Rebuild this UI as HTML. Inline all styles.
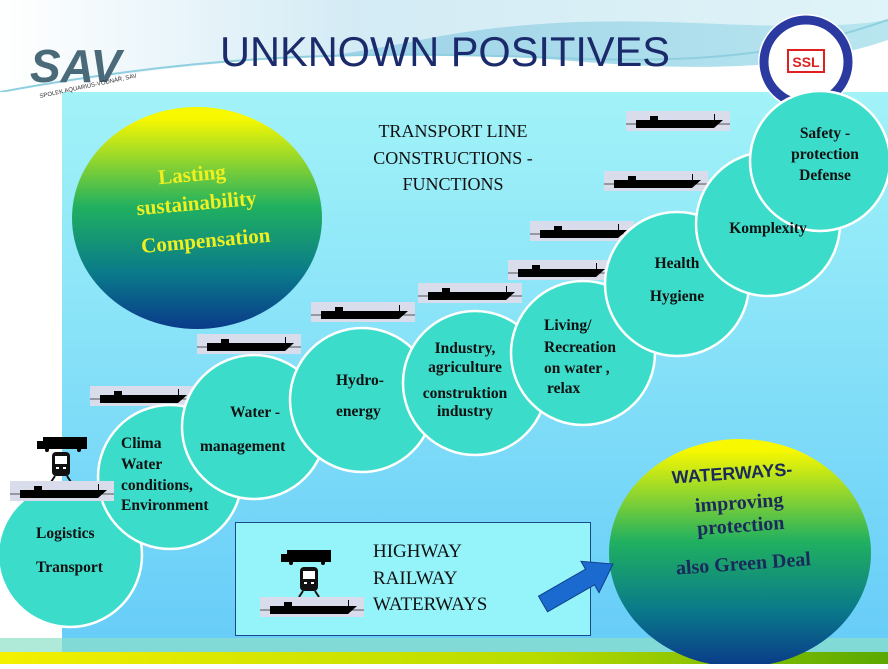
<!DOCTYPE html>
<html><head><meta charset="utf-8"><style>
body{margin:0;width:888px;height:664px;overflow:hidden;background:#fff;font-family:"Liberation Serif",serif}
</style></head><body>
<svg width="888" height="664" viewBox="0 0 888 664" xmlns="http://www.w3.org/2000/svg">
<defs>
<linearGradient id="bg" x1="0" y1="0" x2="0" y2="1"><stop offset="0" stop-color="#a2f3f8"/><stop offset="1" stop-color="#66ccf8"/></linearGradient>
<linearGradient id="top" x1="0" y1="0" x2="1" y2="0"><stop offset="0" stop-color="#ffffff"/><stop offset="0.4" stop-color="#9fd3e8"/><stop offset="1" stop-color="#b8e6ef"/></linearGradient>
<linearGradient id="bot" x1="0" y1="0" x2="1" y2="0"><stop offset="0" stop-color="#f4f000"/><stop offset="0.6" stop-color="#b8dc00"/><stop offset="1" stop-color="#5aa800"/></linearGradient>
<linearGradient id="ball" x1="0" y1="0" x2="0" y2="1"><stop offset="0.05" stop-color="#f8f800"/><stop offset="0.45" stop-color="#20b060"/><stop offset="0.75" stop-color="#0a7a8a"/><stop offset="1" stop-color="#0a3a8a"/></linearGradient>
<g id="ship"><rect x="0" y="0" width="104" height="20" fill="#d8dceb"/><line x1="0" y1="13" x2="104" y2="13" stroke="#555" stroke-width="1"/><path d="M10 9 L24 9 L24 5 L32 5 L32 9 L88 9 L88 3 L89 3 L89 9 L97 9 L88 17 L10 17 Z" fill="#000"/></g>
<g id="truck"><rect x="0" y="0" width="44" height="12" fill="#000"/><rect x="-6" y="4" width="6" height="8" fill="#000"/><circle cx="4" cy="13" r="2"/><circle cx="36" cy="13" r="2"/></g>
<g id="train"><rect x="0" y="0" width="18" height="24" rx="4" fill="#111"/><rect x="3" y="4" width="12" height="8" fill="#fff"/><rect x="4" y="15" width="3" height="2" fill="#fff"/><rect x="11" y="15" width="3" height="2" fill="#fff"/><path d="M3 24 L-1 30 M15 24 L19 30" stroke="#111" stroke-width="2"/></g>
</defs>
<rect x="0" y="0" width="888" height="95" fill="url(#top)"/>
<path d="M0 0 L888 0 L888 20 C760 40 620 0 420 40 C300 65 150 75 0 95 Z" fill="#fff" opacity="0.55"/>
<path d="M0 95 C180 60 380 45 560 60 C700 72 800 70 888 40 L888 95 Z" fill="#fff"/>
<path d="M0 92 C200 55 350 50 560 58 C720 65 800 50 888 20" stroke="#8fcfe0" stroke-width="2" fill="none"/>
<rect x="0" y="92" width="62" height="558" fill="#fff"/>
<rect x="62" y="92" width="826" height="560" fill="url(#bg)"/>
<rect x="0" y="638" width="888" height="14" fill="#8de0c8" opacity="0.7"/>
<rect x="0" y="652" width="888" height="12" fill="url(#bot)"/>
<text x="445" y="66" text-anchor="middle" font-family="Liberation Sans,sans-serif" font-size="42" fill="#1a2a6a" textLength="450" lengthAdjust="spacingAndGlyphs">UNKNOWN  POSITIVES</text>
<!-- SAV logo -->
<text x="30" y="82" font-family="Liberation Sans,sans-serif" font-size="46" font-weight="bold" fill="#4a6a7a" font-style="italic">SAV</text>
<text x="40" y="98" font-family="Liberation Sans,sans-serif" font-size="6" fill="#333" transform="rotate(-12 40 98)">SPOLEK AQUARIUS-VODNÁŘ, SAV</text>
<!-- SSL logo -->
<circle cx="806" cy="62" r="48" fill="#fff"/>
<circle cx="806" cy="62" r="42" fill="none" stroke="#2a3aa0" stroke-width="9"/>
<rect x="788" y="50" width="36" height="22" fill="#fff" stroke="#e02020" stroke-width="2"/>
<text x="806" y="67" text-anchor="middle" font-family="Liberation Sans,sans-serif" font-weight="bold" font-size="14" fill="#e02020">SSL</text>
<!-- big circles -->
<ellipse cx="197" cy="218" rx="125" ry="111" fill="url(#ball)"/>
<g transform="rotate(-5 197 210)">
<text fill="#f0f020" font-weight="bold" font-size="21" text-anchor="middle">
<tspan x="195" y="181">Lasting</tspan><tspan x="197" y="210">sustainability</tspan><tspan x="203" y="248">Compensation</tspan></text></g>
<ellipse cx="740" cy="553" rx="131" ry="114" fill="url(#ball)"/>
<g transform="rotate(-4 740 530)">
<text fill="#1a2a5a" font-weight="bold" font-size="20" text-anchor="middle">
<tspan x="736" y="479" font-family="Liberation Sans,sans-serif" font-size="18">WATERWAYS-</tspan><tspan x="741" y="509">improving</tspan><tspan x="741" y="532">protection</tspan><tspan x="741" y="570">also Green Deal</tspan></text></g>
<text font-size="18" fill="#111" text-anchor="middle"><tspan x="453" y="137">TRANSPORT LINE</tspan><tspan x="453" y="164">CONSTRUCTIONS  -</tspan><tspan x="453" y="190">FUNCTIONS</tspan></text>
<!-- ships -->
<use href="#ship" x="626" y="111"/>
<use href="#ship" x="604" y="171"/>
<use href="#ship" x="530" y="221"/>
<use href="#ship" x="508" y="260"/>
<use href="#ship" x="418" y="283"/>
<use href="#ship" x="311" y="302"/>
<use href="#ship" x="197" y="334"/>
<use href="#ship" x="90" y="386"/>
<g fill="#3cdccb" stroke="#fff" stroke-width="2.5">
<circle cx="70" cy="555" r="72"/>
<circle cx="170" cy="477" r="72"/>
<circle cx="254" cy="427" r="72"/>
<circle cx="362" cy="400" r="72"/>
<circle cx="475" cy="383" r="72"/>
<circle cx="583" cy="353" r="72"/>
<circle cx="677" cy="284" r="72"/>
<circle cx="768" cy="224" r="72"/>
<circle cx="820" cy="161" r="70"/>
</g>
<use href="#truck" x="43" y="437"/>
<use href="#train" x="52" y="452"/>
<use href="#ship" x="10" y="481"/>
<g font-weight="bold" font-size="15.5" fill="#111">
<text x="36" y="538">Logistics</text><text x="36" y="572">Transport</text>
<text x="121" y="448">Clima</text><text x="121" y="469">Water</text><text x="121" y="490">conditions,</text><text x="121" y="510">Environment</text>
<text x="230" y="417">Water -</text><text x="200" y="451">management</text>
<text x="336" y="385">Hydro-</text><text x="336" y="416">energy</text>
<text x="465" y="353" text-anchor="middle">Industry,</text><text x="465" y="372" text-anchor="middle">agriculture</text><text x="465" y="398" text-anchor="middle">construktion</text><text x="465" y="416" text-anchor="middle">industry</text>
<text x="544" y="330">Living/</text><text x="544" y="352">Recreation</text><text x="544" y="373">on water ,</text><text x="547" y="393">relax</text>
<text x="677" y="268" text-anchor="middle">Health</text><text x="677" y="301" text-anchor="middle">Hygiene</text>
<text x="768" y="233" text-anchor="middle">Komplexity</text>
<text x="825" y="138" text-anchor="middle">Safety -</text><text x="825" y="159" text-anchor="middle">protection</text><text x="825" y="180" text-anchor="middle">Defense</text>
</g>
<!-- box -->
<rect x="235.5" y="522.5" width="355" height="113" fill="#95f3fa" stroke="#1a4a8a" stroke-width="1"/>
<use href="#truck" x="287" y="550"/>
<use href="#train" x="300" y="567"/>
<use href="#ship" x="260" y="597"/>
<text font-size="19" fill="#111"><tspan x="373" y="557">HIGHWAY</tspan><tspan x="373" y="584">RAILWAY</tspan><tspan x="373" y="610">WATERWAYS</tspan></text>
<path d="M547.5 611.8 L538.5 596.2 L585.5 569.2 L581 561.3 L613 564 L599 592.7 L594.5 584.8 Z" fill="#1a6ad0" stroke="#10408a" stroke-width="1"/>
</svg>
</body></html>
